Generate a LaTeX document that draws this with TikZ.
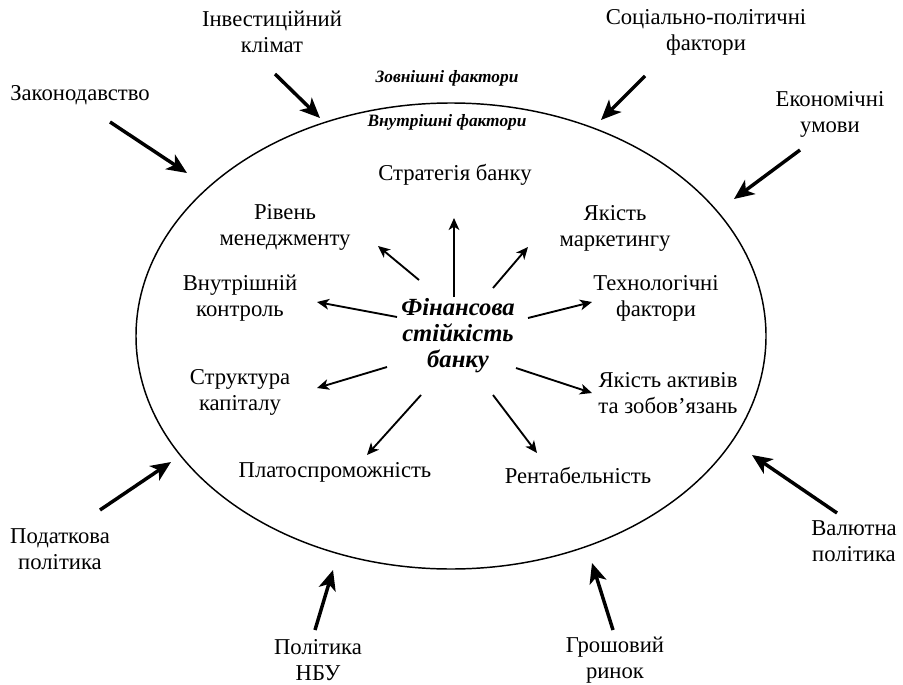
\documentclass[tikz,border=0pt]{standalone}
\usepackage{fontspec}
\setmainfont{Liberation Serif}
\usetikzlibrary{arrows.meta,shapes.geometric}

\begin{document}
\begin{tikzpicture}[x=0.75pt, y=-0.75pt,
  txt/.style={align=center, inner sep=0pt, font=\fontsize{17}{19.5}\selectfont},
  lbl/.style={inner sep=0pt, font=\fontsize{13}{15}\selectfont\bfseries\itshape},
  outer/.style={line width=2.6pt, -{Stealth[length=15pt, width=13pt, inset=4pt]}},
  inner/.style={line width=1.4pt, -{Stealth[length=9pt, width=8pt, inset=2.5pt]}}]

\useasboundingbox (0,0) rectangle (903,685);

% the oval
\node[draw, ellipse, line width=1.1pt, minimum width=472.5pt, minimum height=349.5pt,
  inner sep=0pt] (oval) at (451,336) {};

\node[lbl] (zovn) at (447,78) {Зовнішні фактори};
\node[lbl] (vnutr) at (447,122) {Внутрішні фактори};

% centre
\node[txt, font=\fontsize{18.5}{19.5}\selectfont\bfseries\itshape] (fin) at (458,336)
  {Фінансова\\стійкість\\банку};

% internal factors
\node[txt] (strat) at (455,175) {Стратегія банку};
\node[txt] (mgmt) at (285,227) {Рівень\\менеджменту};
\node[txt] (market) at (615,228) {Якість\\маркетингу};
\node[txt] (control) at (240,298) {Внутрішній\\контроль};
\node[txt] (tech) at (656,298) {Технологічні\\фактори};
\node[txt] (capital) at (240,392) {Структура\\капіталу};
\node[txt] (assets) at (668,393) {Якість активів\\та зобов’язань};
\node[txt] (solv) at (335,472) {Платоспроможність};
\node[txt] (profit) at (578,475) {Рентабельність};

% external factors
\node[txt] (zak) at (80,95) {Законодавство};
\node[txt] (invest) at (272,32) {Інвестиційний\\клімат};
\node[txt] (social) at (706,32) {Соціально-політичні\\фактори};
\node[txt] (econ) at (830,114) {Економічні\\умови};
\node[txt] (tax) at (60,549) {Податкова\\політика};
\node[txt] (nbu) at (318,660) {Політика\\НБУ};
\node[txt] (money) at (615,660) {Грошовий\\ринок};
\node[txt] (curr) at (854,541) {Валютна\\політика};

% arrow ends, inside
\coordinate (strat1) at (454,297);   \coordinate (strat2) at (454,218);
\coordinate (mgmt1) at (419,280);    \coordinate (mgmt2) at (378,246);
\coordinate (market1) at (493,288);  \coordinate (market2) at (528,247);
\coordinate (control1) at (397,317); \coordinate (control2) at (317,302);
\coordinate (tech1) at (528,318);    \coordinate (tech2) at (592,302);
\coordinate (capital1) at (387,367); \coordinate (capital2) at (317,388);
\coordinate (assets1) at (516,368);  \coordinate (assets2) at (592,393);
\coordinate (solv1) at (421,395);    \coordinate (solv2) at (367,455);
\coordinate (profit1) at (493,395);  \coordinate (profit2) at (537,453);

% arrow ends, outside
\coordinate (zak1) at (110,122);     \coordinate (zak2) at (187,173);
\coordinate (invest1) at (275,74);   \coordinate (invest2) at (320,118);
\coordinate (social1) at (645,76);   \coordinate (social2) at (601,120);
\coordinate (econ1) at (800,150);    \coordinate (econ2) at (734,199);
\coordinate (tax1) at (100,510);     \coordinate (tax2) at (171,462);
\coordinate (nbu1) at (315,630);     \coordinate (nbu2) at (333,570);
\coordinate (money1) at (613,630);   \coordinate (money2) at (592,563);
\coordinate (curr1) at (837,513);    \coordinate (curr2) at (752,455);

% arrows
\foreach \a in {strat,mgmt,market,control,tech,capital,assets,solv,profit}
  \draw[inner] (\a1) -- (\a2);

\foreach \a in {zak,invest,social,econ,tax,nbu,money,curr}
  \draw[outer] (\a1) -- (\a2);

\end{tikzpicture}
\end{document}
